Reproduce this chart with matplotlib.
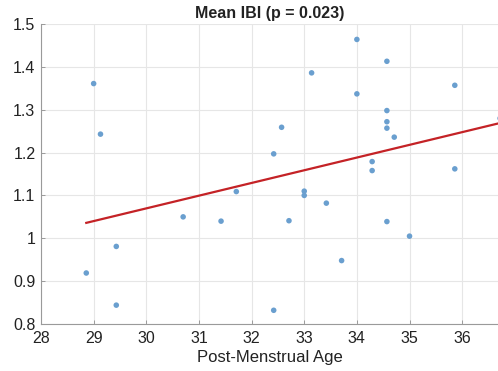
import numpy as np
import matplotlib
matplotlib.use("Agg")
import matplotlib.pyplot as plt

plt.rcParams['font.family'] = ['Liberation Sans', 'DejaVu Sans']

# Post-menstrual age (weeks) and mean inter-breath interval (s)
pma = [29.00, 29.13, 34.00, 34.57, 33.14, 35.86, 34.00, 34.57, 34.57, 34.57,
       32.57, 34.71, 36.72, 32.42, 34.29, 34.29, 35.86, 28.86, 29.43, 29.43,
       30.70, 31.42, 31.71, 33.00, 33.00, 33.42, 32.71, 34.57, 35.00, 33.71,
       32.42]
ibi = [1.361, 1.243, 1.464, 1.413, 1.386, 1.357, 1.337, 1.298, 1.272, 1.257,
       1.259, 1.236, 1.280, 1.197, 1.179, 1.158, 1.162, 0.919, 0.981, 0.844,
       1.050, 1.040, 1.109, 1.110, 1.100, 1.082, 1.041, 1.039, 1.005, 0.948,
       0.832]

# Linear fit line endpoints
fit_x = [28.86, 36.72]
fit_y = [1.036, 1.269]

xticks = [28, 29, 30, 31, 32, 33, 34, 35, 36]
yticks = [0.8, 0.9, 1.0, 1.1, 1.2, 1.3, 1.4, 1.5]
yticklabels = ['0.8', '0.9', '1', '1.1', '1.2', '1.3', '1.4', '1.5']

fig = plt.figure(figsize=(4.98, 3.71), dpi=100)
ax = fig.add_axes([41 / 498, 1 - 324 / 371, 1 - 41 / 498 + 0.001, (324 - 24) / 371])

ax.scatter(pma, ibi, s=16, color='#6a9fcf', edgecolors='none', zorder=3)
ax.plot(fit_x, fit_y, color='#c42226', lw=1.6, zorder=4)

ax.set_xlim(28, 36.69)
ax.set_ylim(0.8, 1.5)
ax.set_xticks(xticks)
ax.set_yticks(yticks)
ax.set_yticklabels(yticklabels)
ax.grid(True, color='#e6e6e6', lw=0.8)
ax.set_axisbelow(True)

for side in ('top', 'right'):
    ax.spines[side].set_visible(False)
for side in ('bottom', 'left'):
    ax.spines[side].set_color('#9a9a9a')
    ax.spines[side].set_linewidth(0.8)

ax.tick_params(direction='in', length=3, width=0.7, color='#9a9a9a',
               labelsize=11.5, labelcolor='#222222')
ax.tick_params(axis='x', pad=5)
ax.tick_params(axis='y', pad=4)

ax.set_xlabel('Post-Menstrual Age', fontsize=12, color='#222222', labelpad=3)
ax.set_title('Mean IBI (p = 0.023)', fontsize=11.5, fontweight='bold',
             color='#222222', pad=4)

fig.savefig('out.png', dpi=100)
